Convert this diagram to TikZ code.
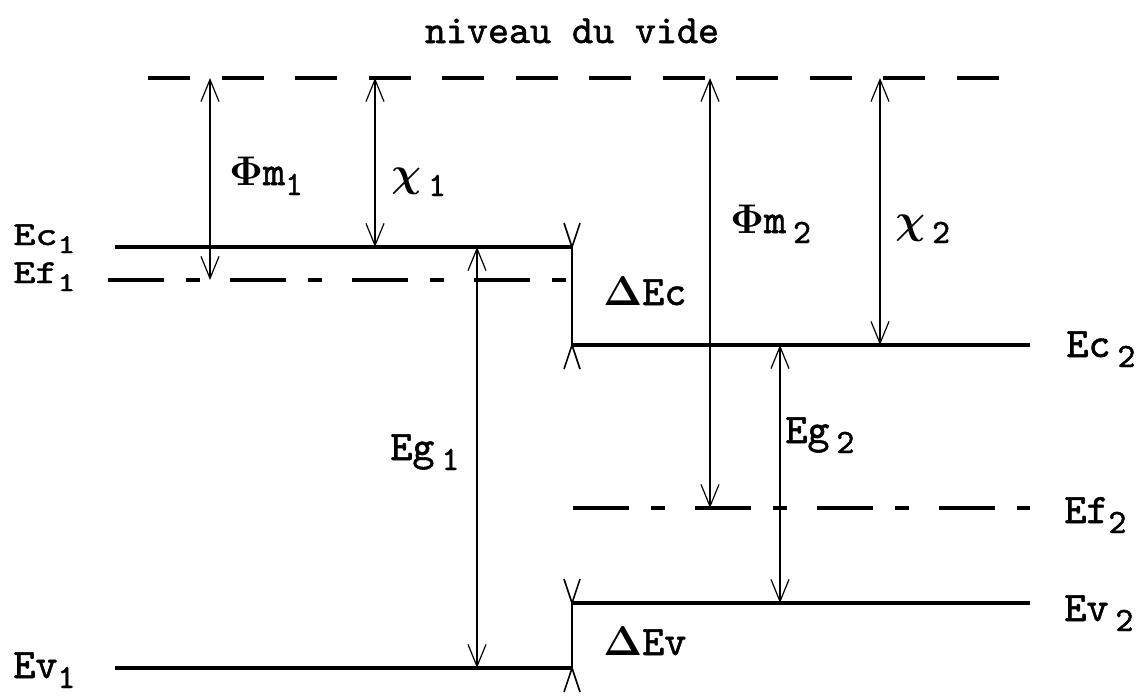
\documentclass[tikz,border=0pt]{standalone}
\usepackage[no-math]{fontspec}
\usepackage{bm}
\newfontfamily\tw{lmmono10-regular}[Extension=.otf, FakeBold=1.3]
\usetikzlibrary{arrows.meta}
\newcommand\lsub[1]{\raisebox{-5pt}{\fontsize{17}{17}\selectfont #1}}
\begin{document}
\begin{tikzpicture}[x=0.5pt,y=-0.5pt,
  level/.style={line width=1.8pt},
  fermi/.style={line width=1.8pt, dash pattern=on 28pt off 11pt on 7pt off 15pt},
  vac/.style={line width=1.8pt, dash pattern=on 21pt off 15.75pt},
  dim/.style={line width=0.6pt,{Straight Barb[length=11pt,width=9pt]}-{Straight Barb[length=11pt,width=9pt]}},
  offs/.style={line width=0.7pt},
  barb/.style={line width=0.8pt},
  lbl/.style={inner sep=0pt, anchor=base west, font=\tw\fontsize{21}{21}\selectfont},
  ]
\useasboundingbox (0,0) rectangle (1144,696);
% coordinates
\coordinate (vacL) at (148,78);  \coordinate (vacR) at (1000,78);
\coordinate (phi1t) at (210,78); \coordinate (phi1b) at (210,280);
\coordinate (chi1t) at (375,78); \coordinate (chi1b) at (375,247);
\coordinate (ec1L) at (115,247); \coordinate (ec1R) at (572,247);
\coordinate (ef1L) at (108,280); \coordinate (ef1R) at (572,280);
\coordinate (ev1L) at (115,668); \coordinate (ev1R) at (572,668);
\coordinate (eg1t) at (477,247); \coordinate (eg1b) at (477,668);
\coordinate (ec2L) at (572,345); \coordinate (ec2R) at (1030,345);
\coordinate (ef2L) at (573,508); \coordinate (ef2R) at (1030,508);
\coordinate (ev2L) at (572,603); \coordinate (ev2R) at (1030,603);
\coordinate (phi2t) at (710,78); \coordinate (phi2b) at (710,508);
\coordinate (chi2t) at (880,78); \coordinate (chi2b) at (880,345);
\coordinate (eg2t) at (780,345); \coordinate (eg2b) at (780,603);
% levels
\draw[vac] (vacL) -- (vacR);
\draw[level] (ec1L) -- (ec1R);
\draw[fermi] (ef1L) -- (ef1R);
\draw[level] (ev1L) -- (ev1R);
\draw[level] (ec2L) -- (ec2R);
\draw[fermi] (ef2L) -- (ef2R);
\draw[level] (ev2L) -- (ev2R);
% offsets
\draw[offs] (ec1R) -- (ec2L);
\draw[offs] (ev2L) -- (ev1R);
\draw[barb] (ec1R) ++(-8,-24) -- (ec1R) -- ++(8,-24);
\draw[barb] (ec2L) ++(-8,24) -- (ec2L) -- ++(8,24);
\draw[barb] (ev2L) ++(-8,-24) -- (ev2L) -- ++(8,-24);
\draw[barb] (ev1R) ++(-8,24) -- (ev1R) -- ++(8,24);
% dimension arrows
\draw[dim] (phi1t) -- (phi1b);
\draw[dim] (chi1t) -- (chi1b);
\draw[dim] (eg1t) -- (eg1b);
\draw[dim] (phi2t) -- (phi2b);
\draw[dim] (chi2t) -- (chi2b);
\draw[dim] (eg2t) -- (eg2b);
% labels
\node[inner sep=0pt, anchor=base, font=\tw\fontsize{20}{20}\selectfont] (title) at (572,43) {niveau du vide};
\node[lbl] (lphi1) at (229,185) {$\mathbf{\Phi}$m\lsub{1}};
\node[lbl] (lchi1) at (391,186) {$\bm{\chi}$\,\lsub{1}};
\node[lbl] (lphi2) at (730,233) {$\mathbf{\Phi}$m\,\lsub{2}};
\node[lbl] (lchi2) at (895,233) {$\bm{\chi}$\,\lsub{2}};
\node[lbl] (ldec) at (603,305) {$\mathbf{\Delta}$Ec};
\node[lbl] (ldev) at (603,655) {$\mathbf{\Delta}$Ev};
\node[lbl] (leg1) at (390,460) {Eg\,\lsub{1}};
\node[lbl] (leg2) at (785,443) {Eg\,\lsub{2}};
\node[lbl, yscale=0.8] (lec1) at (13,245) {Ec\lsub{1}};
\node[lbl, yscale=0.8] (lef1) at (13,283) {Ef\lsub{1}};
\node[lbl] (lev1) at (13,678) {Ev\lsub{1}};
\node[lbl] (lec2) at (1066,357) {Ec\,\lsub{2}};
\node[lbl] (lef2) at (1064,523) {Ef\lsub{2}};
\node[lbl] (lev2) at (1064,621) {Ev\,\lsub{2}};
\end{tikzpicture}
\end{document}
